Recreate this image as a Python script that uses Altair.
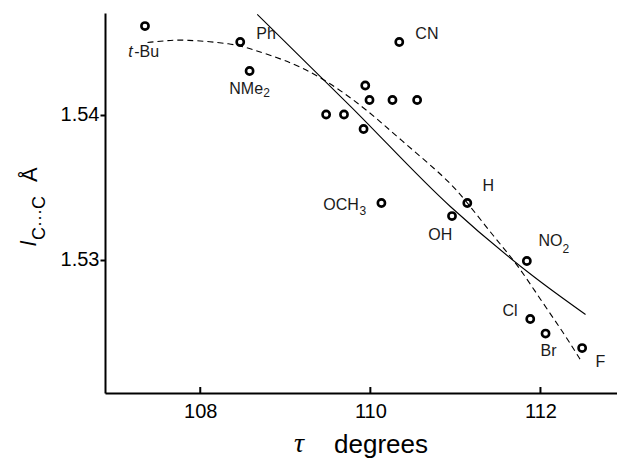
import altair as alt
import pandas as pd

# Data points (tau in degrees, l C..C in Angstrom)
tau = [107.35, 108.47, 108.58, 110.34, 109.94, 109.99, 110.26, 110.55, 109.48,
       109.69, 109.92, 110.13, 111.14, 110.96, 111.84, 111.88, 112.06, 112.49]
lcc = [1.5461, 1.5450, 1.5430, 1.5450, 1.5420, 1.5410, 1.5410, 1.5410, 1.5400,
       1.5400, 1.5390, 1.5339, 1.5339, 1.5330, 1.5299, 1.5259, 1.5249, 1.5239]

# Solid fit curve
fit_x = [108.67, 109.77, 110.94, 111.92, 112.53]
fit_y = [1.5469, 1.54055, 1.53366, 1.52883, 1.52621]

# Dashed fit curve
dash_x = [107.38, 107.61, 107.80, 108.39, 108.62, 108.98, 109.38, 109.92, 110.35,
          110.91, 111.14, 111.45, 111.73, 112.00, 112.27, 112.49]
dash_y = [1.54497, 1.54510, 1.54517, 1.54490, 1.54448, 1.54379, 1.54276, 1.54055, 1.53828,
          1.53552, 1.53393, 1.53159, 1.52966, 1.52724, 1.52497, 1.52290]

# Labels
lab_text = ["-Bu", "Ph", "NMe", "CN", "OCH", "H", "OH", "NO", "Cl", "Br", "F"]
lab_x = [107.224, 108.659, 108.341, 110.529, 109.447, 111.318, 110.682, 111.976, 111.553, 112.0, 112.647]
lab_y = [1.54434, 1.54552, 1.54179, 1.54552, 1.53379, 1.5351, 1.53166, 1.53128, 1.52648, 1.52372, 1.52297]

ital_text = ["t"]
ital_x = [107.153]
ital_y = [1.54434]

sub_text = ["2", "3", "2"]
sub_x = [108.741, 109.871, 112.259]
sub_y = [1.54145, 1.53338, 1.53076]

x_ticks = [108, 110, 112]
y_ticks = [1.53, 1.54]

X_DOMAIN = [106.88, 112.90]
Y_DOMAIN = [1.5208, 1.5470]

pts = pd.DataFrame({"tau": tau, "l": lcc})
fit = pd.DataFrame({"tau": fit_x, "l": fit_y})
dash = pd.DataFrame({"tau": dash_x, "l": dash_y})
labs = pd.DataFrame({"tau": lab_x, "l": lab_y, "t": lab_text})
itals = pd.DataFrame({"tau": ital_x, "l": ital_y, "t": ital_text})
subs = pd.DataFrame({"tau": sub_x, "l": sub_y, "t": sub_text})
ticks = pd.DataFrame({"tau": x_ticks})

FONT = "Liberation Sans"
LABEL_COLOR = "#1a1a1a"

xs = alt.Scale(domain=X_DOMAIN, nice=False, zero=False)
ys = alt.Scale(domain=Y_DOMAIN, nice=False, zero=False)

xenc = alt.X("tau:Q", scale=xs, title=None,
             axis=alt.Axis(values=x_ticks, format="d", ticks=False, grid=False,
                           domainColor="black", domainWidth=2,
                           labelFont=FONT, labelFontSize=20, labelColor="black",
                           labelPadding=8))
yenc = alt.Y("l:Q", scale=ys, title=None,
             axis=alt.Axis(values=y_ticks, format=".2f", grid=False,
                           domainColor="black", domainWidth=2,
                           tickColor="black", tickWidth=2, tickSize=5,
                           labelFont=FONT, labelFontSize=20, labelColor="black",
                           labelPadding=1))

points = alt.Chart(pts).mark_point(shape="circle", filled=False, stroke="black",
                                   strokeWidth=2.6, size=52, opacity=1).encode(x=xenc, y=yenc)

solid = alt.Chart(fit).mark_line(color="black", strokeWidth=1.1, interpolate="monotone").encode(
    x=alt.X("tau:Q", scale=xs), y=alt.Y("l:Q", scale=ys))

dashed = alt.Chart(dash).mark_line(color="black", strokeWidth=1.1, strokeDash=[6, 4],
                                   interpolate="basis").encode(
    x=alt.X("tau:Q", scale=xs), y=alt.Y("l:Q", scale=ys))

labels = alt.Chart(labs).mark_text(align="left", baseline="middle", font=FONT,
                                   fontSize=16, color=LABEL_COLOR).encode(
    x=alt.X("tau:Q", scale=xs), y=alt.Y("l:Q", scale=ys), text="t:N")

ital = alt.Chart(itals).mark_text(align="left", baseline="middle", font=FONT,
                                  fontSize=16, fontStyle="italic", color=LABEL_COLOR).encode(
    x=alt.X("tau:Q", scale=xs), y=alt.Y("l:Q", scale=ys), text="t:N")

subl = alt.Chart(subs).mark_text(align="left", baseline="middle", font=FONT,
                                 fontSize=12, color=LABEL_COLOR).encode(
    x=alt.X("tau:Q", scale=xs), y=alt.Y("l:Q", scale=ys), text="t:N")

xt = alt.Chart(ticks).mark_rule(color="black", strokeWidth=2).encode(
    x=alt.X("tau:Q", scale=xs), y=alt.value(374), y2=alt.value(380))

one = alt.Data(values=[{}])

tau_title = alt.Chart(one).mark_text(align="left", baseline="alphabetic",
                                     font="Liberation Serif", fontStyle="italic",
                                     fontSize=28, color="black").encode(
    x=alt.value(189), y=alt.value(439), text=alt.value("τ"))
deg_title = alt.Chart(one).mark_text(align="left", baseline="alphabetic", font=FONT,
                                     fontSize=26, color="black").encode(
    x=alt.value(229), y=alt.value(440), text=alt.value("degrees"))

l_title = alt.Chart(one).mark_text(align="left", baseline="alphabetic", angle=270, font=FONT,
                                   fontStyle="italic", fontSize=22, color="black").encode(
    x=alt.value(-69), y=alt.value(233), text=alt.value("l"))
cc_title = alt.Chart(one).mark_text(align="left", baseline="alphabetic", angle=270, font=FONT,
                                    fontSize=18, color="black").encode(
    x=alt.value(-60), y=alt.value(227), text=alt.value("C···C"))
a_title = alt.Chart(one).mark_text(align="left", baseline="alphabetic", angle=270, font=FONT,
                                   fontSize=22, color="black").encode(
    x=alt.value(-68), y=alt.value(169), text=alt.value("Å"))

chart = alt.layer(points, solid, dashed, labels, ital, subl, xt,
                  tau_title, deg_title, l_title, cc_title, a_title).properties(
    width=512, height=380,
    autosize=alt.AutoSizeParams(type="none"),
    padding={"left": 97, "top": 5, "right": 0, "bottom": 65},
    background="white",
).configure_view(stroke=None)

chart.save("out.html", embed_options={"renderer": "svg", "actions": False})
